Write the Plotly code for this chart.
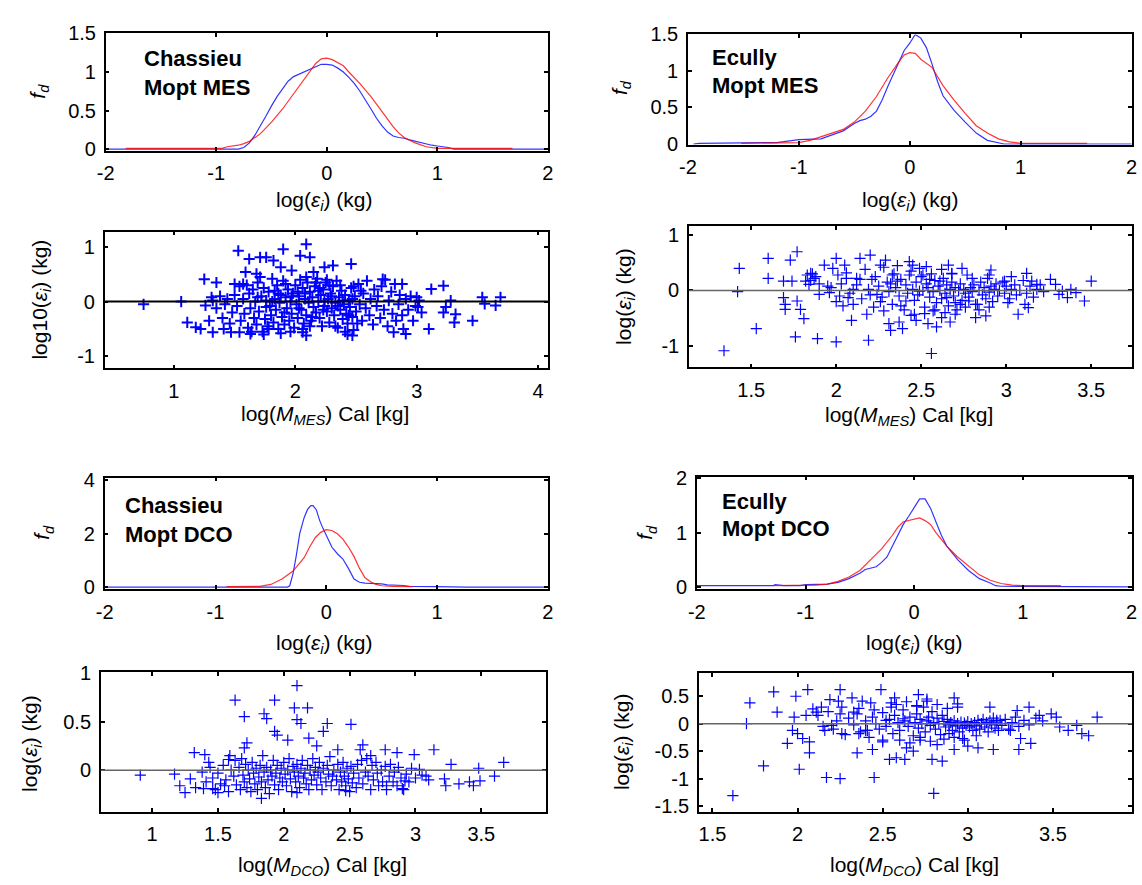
import plotly.graph_objects as go

W, H = 1142, 885
FONT = "Liberation Sans, Arial, Helvetica, sans-serif"

# ---------------- density curves (x = log(eps), y = f_d) ----------------
# Chassieu MES
ch_mes_blue_x = [-2.0, -0.8, -0.75, -0.7, -0.65, -0.6, -0.55, -0.5, -0.45, -0.4, -0.35, -0.3, -0.25, -0.2, -0.15, -0.1, -0.05, 0.0, 0.05, 0.1, 0.15, 0.2, 0.25, 0.3, 0.35, 0.4, 0.45, 0.5, 0.55, 0.6, 0.65, 0.7, 0.75, 0.8, 0.85, 0.9, 0.95, 1.0, 1.05, 1.1, 1.15, 2.0]
ch_mes_blue_y = [0.0, 0.0, 0.02, 0.08, 0.18, 0.3, 0.43, 0.56, 0.68, 0.78, 0.88, 0.94, 0.97, 1.0, 1.04, 1.07, 1.1, 1.1, 1.09, 1.05, 1.0, 0.93, 0.85, 0.75, 0.64, 0.52, 0.4, 0.3, 0.22, 0.17, 0.15, 0.14, 0.12, 0.1, 0.08, 0.07, 0.05, 0.04, 0.03, 0.02, 0.0, 0.0]
ch_mes_red_x = [-1.82, -0.95, -0.9, -0.8, -0.75, -0.7, -0.6, -0.5, -0.4, -0.3, -0.2, -0.15, -0.1, -0.05, 0.0, 0.05, 0.1, 0.15, 0.2, 0.3, 0.4, 0.5, 0.6, 0.65, 0.7, 0.8, 0.9, 1.0, 1.68]
ch_mes_red_y = [0.01, 0.01, 0.03, 0.05, 0.07, 0.1, 0.2, 0.35, 0.52, 0.72, 0.92, 1.02, 1.11, 1.17, 1.18, 1.16, 1.12, 1.08, 1.0, 0.85, 0.68, 0.48, 0.29, 0.21, 0.15, 0.08, 0.03, 0.01, 0.01]

# Ecully MES
ec_mes_blue_x = [-1.95, -1.9, -1.2, -1.1, -1.0, -0.8, -0.7, -0.6, -0.5, -0.45, -0.4, -0.35, -0.3, -0.25, -0.2, -0.15, -0.1, -0.05, 0.0, 0.05, 0.1, 0.15, 0.2, 0.25, 0.3, 0.4, 0.5, 0.6, 0.7, 0.8, 0.85, 2.0]
ec_mes_blue_y = [0.0, 0.01, 0.02, 0.04, 0.06, 0.07, 0.12, 0.18, 0.28, 0.32, 0.34, 0.38, 0.45, 0.6, 0.78, 0.95, 1.12, 1.28, 1.38, 1.5, 1.45, 1.32, 1.1, 0.86, 0.66, 0.46, 0.3, 0.15, 0.05, 0.01, 0.0, 0.0]
ec_mes_red_x = [-1.52, -1.0, -0.9, -0.8, -0.7, -0.6, -0.5, -0.4, -0.3, -0.2, -0.1, -0.05, 0.0, 0.05, 0.1, 0.2, 0.3, 0.4, 0.5, 0.6, 0.7, 0.8, 0.9, 1.0, 1.6]
ec_mes_red_y = [0.01, 0.02, 0.05, 0.1, 0.15, 0.2, 0.3, 0.45, 0.65, 0.9, 1.12, 1.22, 1.25, 1.24, 1.16, 1.05, 0.8, 0.6, 0.42, 0.25, 0.15, 0.07, 0.03, 0.01, 0.01]

# Chassieu DCO
ch_dco_blue_x = [-2.0, -0.35, -0.33, -0.3, -0.27, -0.24, -0.2, -0.17, -0.14, -0.12, -0.09, -0.06, -0.03, 0.0, 0.05, 0.1, 0.15, 0.2, 0.25, 0.3, 0.35, 0.5, 0.55, 0.7, 0.75, 1.0, 1.25, 1.27, 2.0]
ch_dco_blue_y = [0.0, 0.0, 0.05, 0.5, 1.2, 2.0, 2.6, 2.9, 3.05, 3.05, 2.9, 2.5, 2.2, 1.95, 1.5, 1.25, 1.05, 0.7, 0.3, 0.18, 0.15, 0.12, 0.08, 0.06, 0.03, 0.02, 0.01, 0.0, 0.0]
ch_dco_red_x = [-0.9, -0.6, -0.5, -0.4, -0.3, -0.2, -0.15, -0.1, -0.05, 0.0, 0.05, 0.1, 0.15, 0.2, 0.25, 0.3, 0.35, 0.4, 0.45, 0.5, 0.6, 0.78]
ch_dco_red_y = [0.02, 0.03, 0.1, 0.3, 0.6, 1.1, 1.5, 1.85, 2.05, 2.15, 2.12, 2.0, 1.8, 1.5, 1.15, 0.7, 0.35, 0.2, 0.1, 0.05, 0.03, 0.02]

# Ecully DCO
ec_dco_blue_x = [-2.0, -1.3, -1.28, -1.2, -1.05, -1.0, -0.8, -0.7, -0.6, -0.5, -0.45, -0.4, -0.35, -0.3, -0.25, -0.2, -0.15, -0.1, -0.05, 0.0, 0.05, 0.1, 0.15, 0.2, 0.25, 0.3, 0.4, 0.5, 0.6, 0.7, 0.75, 0.8, 2.0]
ec_dco_blue_y = [0.02, 0.02, 0.04, 0.02, 0.02, 0.04, 0.05, 0.08, 0.15, 0.25, 0.32, 0.35, 0.37, 0.45, 0.55, 0.75, 0.95, 1.15, 1.3, 1.45, 1.62, 1.62, 1.45, 1.2, 0.95, 0.75, 0.5, 0.3, 0.15, 0.07, 0.02, 0.01, 0.0]
ec_dco_red_x = [-1.3, -0.9, -0.8, -0.7, -0.6, -0.5, -0.4, -0.3, -0.2, -0.15, -0.1, 0.0, 0.05, 0.1, 0.15, 0.2, 0.3, 0.4, 0.5, 0.6, 0.7, 0.8, 0.9, 1.0, 1.35]
ec_dco_red_y = [0.02, 0.03, 0.05, 0.1, 0.18, 0.3, 0.5, 0.7, 0.95, 1.1, 1.2, 1.25, 1.27, 1.22, 1.15, 1.0, 0.75, 0.55, 0.38, 0.22, 0.12, 0.06, 0.03, 0.02, 0.02]

# ---------------- residual scatter (x = log(M) Cal, y = log(eps)) ----------------
ch_mes_pts = [
    (0.75, -0.05), (1.06, 0.0), (1.11, -0.38), (1.25, 0.41), (1.18, -0.47), (1.22, -0.5), (1.26, -0.07),
    (1.31, 0.08), (1.35, 0.35), (1.29, -0.35), (1.32, -0.56), (1.41, -0.5), (1.47, -0.56), (1.53, 0.93),
    (1.5, 0.32), (1.57, 0.32), (1.54, -0.56), (1.62, 0.78), (1.59, 0.54), (1.68, 0.51), (1.71, 0.81),
    (1.76, 0.81), (1.82, 0.75), (1.88, 0.63), (1.9, 0.96), (2.09, 1.05), (2.04, 0.84), (2.12, 0.81),
    (2.15, 0.54), (2.24, 0.63), (2.31, 0.66), (2.46, 0.69), (2.47, -0.62), (1.97, 0.57), (2.06, -0.56),
    (2.09, -0.62), (1.63, -0.59), (2.88, 0.32), (2.72, 0.41), (2.91, -0.59), (2.81, -0.56), (3.1, -0.5),
    (3.12, 0.23), (3.22, 0.29), (3.22, -0.2), (3.24, -0.1), (3.28, 0.02), (3.31, -0.38), (3.32, -0.23),
    (3.46, -0.35), (3.54, 0.08), (3.56, -0.04), (3.65, -0.07), (3.69, 0.08), (3.0, 0.08), (3.01, -0.1),
    (3.04, -0.2),
    (1.32, 0.02), (1.35, -0.12), (1.38, 0.10), (1.40, -0.30), (1.42, -0.05), (1.44, 0.05), (1.46, -0.40),
    (1.48, -0.20), (1.50, 0.12), (1.52, -0.08), (1.54, 0.28), (1.55, -0.35), (1.57, 0.05), (1.58, -0.22),
    (1.60, 0.30), (1.61, -0.48), (1.62, 0.15), (1.63, -0.12), (1.65, 0.22), (1.66, -0.30), (1.67, 0.00),
    (1.68, -0.42), (1.69, 0.35), (1.70, -0.18), (1.72, 0.10), (1.73, -0.55), (1.74, 0.25), (1.75, -0.32),
    (1.76, 0.02), (1.77, -0.45), (1.78, 0.18), (1.79, -0.08), (1.80, -0.25), (1.81, 0.42), (1.82, -0.38),
    (1.83, 0.05), (1.84, -0.15), (1.85, 0.30), (1.86, -0.50), (1.87, -0.02), (1.88, 0.12), (1.89, -0.28),
    (1.90, 0.38), (1.91, -0.42), (1.92, 0.08), (1.93, -0.12), (1.94, 0.22), (1.95, -0.35), (1.96, 0.00),
    (1.97, -0.22), (1.98, 0.15), (1.99, -0.48), (2.00, 0.30), (2.01, -0.05), (2.02, -0.30), (2.03, 0.10),
    (2.04, 0.40), (2.05, -0.15), (2.06, 0.25), (2.07, -0.40), (2.08, 0.05), (2.09, -0.25), (2.10, 0.35),
    (2.11, -0.02), (2.12, 0.18), (2.13, -0.35), (2.14, 0.08), (2.15, -0.10), (2.16, 0.28), (2.17, -0.20),
    (2.18, 0.42), (2.19, 0.00), (2.20, -0.30), (2.21, 0.12), (2.22, -0.45), (2.23, 0.22), (2.24, -0.08),
    (2.25, 0.35), (2.26, -0.18), (2.27, 0.05), (2.28, -0.38), (2.29, 0.15), (2.30, -0.12), (2.31, 0.28),
    (2.32, -0.25), (2.33, -0.02), (2.34, 0.38), (2.35, -0.48), (2.36, 0.08), (2.37, -0.15), (2.38, 0.20),
    (2.39, -0.32), (2.40, -0.05), (2.41, 0.12), (2.42, -0.22), (2.43, -0.40), (2.44, 0.02), (2.45, -0.10),
    (2.46, 0.25), (2.47, -0.28), (2.48, -0.52), (2.49, 0.10), (2.50, -0.18), (2.52, 0.32), (2.53, -0.05),
    (2.55, -0.35), (2.56, 0.15), (2.58, -0.12), (2.59, 0.38), (2.61, -0.25), (2.62, 0.05), (2.64, -0.42),
    (2.65, 0.22), (2.67, -0.08), (2.68, 0.10), (2.70, -0.30), (2.71, 0.28), (2.73, -0.15), (2.74, 0.40),
    (2.76, -0.45), (2.77, 0.02), (2.79, 0.18), (2.80, -0.22), (2.82, 0.32), (2.83, -0.35), (2.85, -0.05),
    (2.86, 0.12), (2.88, -0.25), (2.89, -0.50), (2.91, 0.05), (2.93, -0.15), (2.95, 0.10), (2.97, -0.35),
    (2.99, -0.08), (3.02, 0.02),
    (1.64, -0.55), (1.71, 0.45), (1.74, -0.60), (1.78, -0.50), (1.83, 0.20), (1.88, -0.58), (1.92, 0.32),
    (1.96, -0.55), (2.02, 0.18), (2.06, -0.50), (2.09, 0.45), (2.12, -0.45), (2.17, 0.35), (2.20, 0.25),
    (2.23, -0.15), (2.26, 0.40), (2.30, 0.10), (2.33, -0.45), (2.37, 0.30), (2.41, -0.55), (2.44, -0.25),
    (2.47, 0.05), (2.51, -0.40), (2.54, 0.20), (1.69, 0.08), (1.76, -0.10), (1.81, 0.00), (1.86, 0.15),
    (1.91, -0.20), (1.97, 0.10), (2.03, -0.12), (2.08, 0.15), (2.14, -0.28), (2.19, 0.20), (2.24, 0.00),
    (2.28, 0.30), (2.35, -0.08), (2.39, 0.02), (2.43, -0.60), (2.48, 0.28),
]

ec_mes_pts = [
    (1.34, -1.09), (1.43, 0.40), (1.42, -0.02), (1.53, -0.69), (1.6, 0.58), (1.6, 0.22), (1.69, 0.17),
    (1.69, -0.13), (1.7, -0.25), (1.7, -0.34), (1.73, 0.55), (1.77, 0.7), (1.74, 0.17), (1.77, -0.19),
    (1.76, -0.84), (1.79, -0.34), (1.81, -0.51), (1.82, 0.17), (1.83, 0.28), (1.85, 0.31), (1.87, 0.22),
    (1.84, 0.11), (1.89, -0.87), (1.9, -0.07), (1.93, 0.46), (1.95, 0.08), (1.96, -0.04), (2.0, 0.58),
    (2.0, -0.93), (1.98, 0.40), (2.01, 0.28), (2.02, -0.1), (2.05, 0.46), (2.07, -0.13), (2.09, -0.54),
    (2.12, 0.22), (2.14, 0.58), (2.18, -0.43), (2.19, -0.9), (2.2, 0.64), (2.21, 0.2), (2.24, -0.07),
    (2.26, 0.46), (2.28, -0.37), (2.29, 0.55), (2.31, -0.6), (2.32, -0.72), (2.33, 0.28), (2.36, 0.17),
    (2.37, -0.57), (2.39, -0.69), (2.41, -0.19), (2.43, 0.52), (2.45, 0.46), (2.46, -0.43), (2.47, -0.54),
    (2.49, -0.01), (2.51, 0.28), (2.53, 0.43), (2.54, -0.6), (2.56, -1.14), (2.57, -0.37), (2.59, -0.66),
    (2.61, 0.17), (2.62, -0.49), (2.65, -0.13), (2.66, 0.46), (2.67, -0.57), (2.68, 0.31), (2.7, -0.43),
    (2.73, -0.25), (2.78, -0.19), (2.82, -0.49), (2.83, -0.25), (2.88, -0.46), (2.9, 0.28), (2.91, 0.37),
    (2.99, 0.17), (3.01, -0.22), (3.03, 0.25), (3.07, -0.43), (3.11, -0.25), (3.13, -0.31), (3.12, 0.31),
    (3.15, 0.17), (3.18, 0.11), (3.26, 0.2), (3.29, 0.11), (3.31, -0.07), (3.33, -0.01), (3.36, -0.13),
    (3.38, 0.02), (3.41, -0.04), (3.46, -0.19), (3.5, 0.17),
    (1.97, 0.05), (2.00, -0.20), (2.03, 0.12), (2.06, 0.32), (2.08, -0.05), (2.10, -0.25), (2.12, 0.10),
    (2.15, -0.15), (2.17, 0.38), (2.19, 0.02), (2.22, -0.30), (2.23, 0.25), (2.25, 0.08), (2.27, -0.12),
    (2.28, 0.42), (2.30, 0.15), (2.31, -0.02), (2.33, -0.25), (2.34, 0.30), (2.35, 0.05), (2.37, -0.10),
    (2.38, 0.20), (2.40, -0.35), (2.41, 0.10), (2.42, -0.05), (2.44, 0.35), (2.45, 0.02), (2.46, -0.18),
    (2.47, 0.15), (2.48, -0.08), (2.50, 0.25), (2.51, 0.00), (2.52, -0.30), (2.53, 0.12), (2.54, 0.05),
    (2.55, -0.12), (2.56, 0.30), (2.57, -0.02), (2.58, 0.18), (2.59, -0.22), (2.60, 0.08), (2.61, 0.00),
    (2.62, -0.15), (2.63, 0.22), (2.64, -0.05), (2.65, 0.10), (2.66, -0.28), (2.67, 0.02), (2.68, 0.15),
    (2.69, -0.10), (2.70, 0.05), (2.71, -0.35), (2.72, 0.00), (2.73, 0.12), (2.74, -0.18), (2.75, 0.02),
    (2.76, -0.05), (2.77, 0.28), (2.78, -0.12), (2.79, 0.05), (2.80, -0.02), (2.81, 0.10), (2.82, -0.25),
    (2.84, 0.00), (2.85, 0.15), (2.86, -0.08), (2.87, 0.05), (2.88, -0.15), (2.89, 0.22), (2.90, -0.03),
    (2.91, 0.08), (2.92, -0.20), (2.93, 0.02), (2.94, 0.12), (2.95, -0.10), (2.96, 0.00), (2.98, 0.15),
    (2.99, -0.05), (3.00, 0.08), (3.02, -0.15), (3.03, 0.02), (3.05, 0.10), (3.06, -0.08), (3.08, 0.00),
    (3.10, 0.18), (3.12, -0.05), (3.14, 0.08), (3.16, -0.12), (3.18, 0.02), (3.20, 0.10), (3.22, -0.02),
    (2.36, 0.45), (2.43, 0.28), (2.49, 0.40), (2.55, 0.20), (2.62, 0.38), (2.68, 0.30), (2.74, 0.40),
    (2.80, 0.22), (2.44, -0.45), (2.52, -0.42), (2.58, -0.35), (2.64, -0.40), (2.70, -0.22), (2.76, -0.30),
    (2.84, -0.35), (2.90, -0.30), (2.14, 0.20), (2.20, -0.08), (2.26, -0.20), (2.32, 0.12), (2.38, -0.28),
    (1.86, 0.30), (1.88, 0.25), (1.85, 0.18), (1.90, 0.12), (2.04, -0.28), (2.06, 0.22), (2.10, 0.02),
]

ch_dco_pts = [
    (0.91, -0.05), (1.17, -0.04), (1.21, -0.16), (1.25, -0.23), (1.32, 0.18), (1.4, 0.16), (1.43, 0.08),
    (1.29, -0.09), (1.33, -0.18), (1.39, -0.19), (1.46, -0.19), (1.5, -0.23), (1.55, -0.16), (1.58, 0.11),
    (1.59, 0.15), (1.63, 0.72), (1.7, 0.55), (1.72, 0.28), (1.7, 0.23), (1.83, -0.29), (1.85, 0.58),
    (1.87, 0.53), (1.93, 0.72), (1.93, 0.4), (1.95, 0.36), (2.03, 0.31), (2.1, 0.87), (2.08, 0.64),
    (2.1, 0.52), (2.13, 0.48), (2.18, 0.64), (2.19, 0.33), (2.25, 0.25), (2.3, 0.4), (2.33, 0.48),
    (2.51, 0.47), (2.41, 0.21), (2.58, 0.21), (2.6, 0.26), (2.66, 0.15), (2.77, 0.21), (2.86, 0.18),
    (2.99, 0.16), (3.14, 0.21), (3.27, 0.06), (3.48, 0.02), (3.67, 0.08), (3.6, -0.06), (3.49, -0.11),
    (3.33, -0.14), (3.41, -0.12), (3.22, -0.09), (3.23, -0.16), (3.08, -0.06), (3.03, 0.01), (2.92, -0.11),
    (2.9, -0.19), (2.78, -0.16), (2.47, -0.21), (2.1, -0.23), (3.44, -0.16),
    (1.38, -0.02), (1.41, -0.12), (1.44, 0.03), (1.46, -0.08), (1.48, -0.20), (1.50, -0.03), (1.52, -0.14),
    (1.54, 0.05), (1.56, -0.10), (1.58, -0.22), (1.60, 0.00), (1.62, -0.06), (1.63, 0.10), (1.64, -0.15),
    (1.66, 0.03), (1.67, -0.20), (1.68, 0.12), (1.69, -0.05), (1.70, -0.12), (1.71, 0.06), (1.72, -0.18),
    (1.73, 0.00), (1.74, -0.09), (1.75, -0.22), (1.76, 0.08), (1.77, -0.03), (1.78, -0.14), (1.79, 0.02),
    (1.80, -0.20), (1.81, -0.07), (1.82, 0.05), (1.83, -0.12), (1.84, 0.15), (1.85, -0.02), (1.86, -0.18),
    (1.87, 0.03), (1.88, -0.10), (1.89, -0.24), (1.90, 0.00), (1.91, -0.06), (1.92, 0.10), (1.93, -0.15),
    (1.94, -0.03), (1.95, 0.05), (1.96, -0.20), (1.97, -0.08), (1.98, 0.02), (1.99, -0.12), (2.00, 0.08),
    (2.01, -0.04), (2.02, -0.16), (2.03, 0.00), (2.04, 0.12), (2.05, -0.09), (2.06, -0.22), (2.07, 0.04),
    (2.08, -0.02), (2.09, -0.12), (2.10, 0.06), (2.11, -0.06), (2.12, -0.18), (2.13, 0.02), (2.14, 0.10),
    (2.15, -0.08), (2.16, -0.03), (2.17, -0.14), (2.18, 0.05), (2.19, -0.20), (2.20, 0.00), (2.21, -0.10),
    (2.22, 0.12), (2.23, -0.05), (2.24, 0.03), (2.25, -0.15), (2.26, -0.02), (2.27, 0.08), (2.28, -0.08),
    (2.29, -0.20), (2.30, 0.02), (2.32, -0.12), (2.33, 0.05), (2.34, -0.04), (2.35, 0.14), (2.36, -0.16),
    (2.37, -0.06), (2.38, 0.00), (2.40, -0.10), (2.41, 0.06), (2.42, -0.20), (2.43, -0.02), (2.44, -0.12),
    (2.45, 0.08), (2.46, -0.06), (2.47, -0.16), (2.48, 0.02), (2.49, -0.09), (2.50, -0.22), (2.51, 0.04),
    (2.52, -0.13), (2.53, -0.03), (2.55, -0.18), (2.56, 0.06), (2.57, -0.08), (2.59, 0.10), (2.60, -0.14),
    (2.62, -0.02), (2.63, 0.12), (2.64, -0.06), (2.66, -0.20), (2.67, 0.05), (2.68, -0.10), (2.70, 0.08),
    (2.71, -0.03), (2.72, -0.16), (2.74, 0.00), (2.75, -0.12), (2.77, 0.04), (2.78, -0.20), (2.80, -0.06),
    (2.81, 0.06), (2.83, -0.12), (2.84, -0.02), (2.86, -0.16), (2.87, 0.03), (2.89, -0.08), (2.91, -0.20),
    (2.93, -0.04), (2.95, -0.12), (2.97, 0.02), (3.00, -0.08), (3.05, -0.05), (3.10, -0.10),
]

ec_dco_pts = [
    (1.62, -1.31), (1.7, 0.0), (1.72, 0.38), (1.8, -0.77), (1.86, 0.58), (1.88, 0.21), (1.94, -0.36),
    (1.97, -0.12), (1.99, 0.5), (1.98, 0.12), (2.0, -0.18), (2.01, -0.83), (2.03, -0.27), (2.05, 0.15),
    (2.06, 0.62), (2.07, -0.53), (2.07, -0.33), (2.09, 0.27), (2.11, 0.21), (2.14, 0.3), (2.16, -0.12),
    (2.17, -0.98), (2.19, 0.44), (2.2, -0.03), (2.25, 0.62), (2.25, -1.0), (2.24, 0.41), (2.25, 0.18),
    (2.26, -0.18), (2.32, 0.47), (2.33, 0.21), (2.35, -0.53), (2.36, -0.18), (2.38, 0.41), (2.41, -0.12),
    (2.43, 0.38), (2.44, -0.47), (2.45, -0.98), (2.49, 0.62), (2.5, -0.33), (2.52, 0.06), (2.54, -0.65),
    (2.55, 0.3), (2.57, 0.47), (2.58, -0.62), (2.62, 0.09), (2.63, -0.65), (2.64, -0.44), (2.68, -0.5),
    (2.7, 0.33), (2.71, 0.53), (2.72, -0.3), (2.76, 0.41), (2.8, -1.27), (2.79, -0.65), (2.82, -0.38),
    (2.85, -0.68), (2.89, -0.18), (2.92, -0.47), (2.92, 0.47), (2.94, 0.36), (2.97, -0.27), (3.0, -0.41),
    (3.06, -0.44), (3.13, 0.3), (3.15, -0.47), (3.17, 0.06), (3.25, -0.12), (3.29, 0.24), (3.3, -0.47),
    (3.31, -0.27), (3.36, 0.3), (3.37, -0.36), (3.42, 0.15), (3.49, 0.18), (3.52, 0.12), (3.54, -0.06),
    (3.59, -0.12), (3.64, -0.03), (3.67, -0.18), (3.76, 0.12), (3.71, -0.22),
    (2.12, 0.15), (2.15, -0.05), (2.18, 0.22), (2.21, -0.10), (2.23, 0.05), (2.26, 0.30), (2.28, -0.20),
    (2.30, 0.10), (2.33, -0.02), (2.35, 0.18), (2.37, -0.15), (2.40, 0.05), (2.42, -0.25), (2.44, 0.12),
    (2.46, 0.00), (2.48, -0.10), (2.50, 0.20), (2.52, -0.05), (2.54, 0.08), (2.56, -0.18), (2.57, 0.15),
    (2.59, 0.02), (2.60, -0.12), (2.62, 0.25), (2.63, 0.05), (2.65, -0.05), (2.66, 0.12), (2.68, -0.22),
    (2.69, 0.02), (2.70, 0.18), (2.71, -0.08), (2.72, 0.08), (2.73, 0.00), (2.74, 0.30), (2.75, -0.15),
    (2.76, 0.05), (2.77, 0.12), (2.78, -0.03), (2.79, 0.22), (2.80, 0.02), (2.81, -0.10), (2.82, 0.10),
    (2.83, 0.00), (2.84, -0.20), (2.85, 0.15), (2.86, 0.04), (2.87, -0.06), (2.88, 0.08), (2.89, -0.02),
    (2.90, 0.02), (2.91, -0.12), (2.92, 0.05), (2.93, -0.04), (2.94, 0.00), (2.95, -0.15), (2.96, 0.03),
    (2.97, -0.08), (2.98, 0.01), (2.99, -0.03), (3.00, 0.04), (3.01, -0.06), (3.02, 0.00), (3.03, -0.12),
    (3.04, 0.02), (3.05, -0.04), (3.06, 0.06), (3.07, -0.10), (3.08, 0.00), (3.09, 0.08), (3.10, -0.06),
    (3.11, 0.02), (3.12, -0.15), (3.13, 0.05), (3.14, -0.02), (3.15, 0.10), (3.16, -0.08), (3.17, 0.03),
    (3.18, -0.12), (3.19, 0.06), (3.20, -0.03), (3.22, 0.08), (3.24, -0.10), (3.26, 0.02), (3.28, 0.12),
    (3.30, -0.05), (3.33, 0.06), (3.36, -0.02), (3.40, 0.10), (3.44, 0.05), (2.58, 0.35), (2.64, 0.40),
    (2.70, 0.32), (2.76, 0.45), (2.82, 0.35), (2.88, 0.28), (2.94, 0.30), (2.60, -0.30), (2.66, -0.35),
    (2.72, -0.25), (2.78, -0.32), (2.86, -0.28), (2.92, -0.25), (2.98, -0.30), (3.05, -0.22), (2.45, 0.25),
    (2.50, -0.30), (2.55, 0.38), (2.36, 0.28), (2.40, -0.12),
]

# ---------------- labels & ticks ----------------
site_labels = ["Chassieu", "Ecully", "Chassieu", "Ecully"]
param_labels = ["Mopt MES", "Mopt MES", "Mopt DCO", "Mopt DCO"]
density_xticks = [-2, -1, 0, 1, 2]
density_yticks = [[0, 0.5, 1, 1.5], [0, 0.5, 1, 1.5], [0, 2, 4], [0, 1, 2]]
scatter_xticks = [[1, 2, 3, 4], [1.5, 2, 2.5, 3, 3.5], [1, 1.5, 2, 2.5, 3, 3.5], [1.5, 2, 2.5, 3, 3.5]]
scatter_yticks = [[-1, 0, 1], [-1, 0, 1], [0, 0.5, 1], [-1.5, -1, -0.5, 0, 0.5]]

x_title_eps = "log(<i>ε</i><sub><i>i</i></sub>) (kg)"
x_title_mes = "log(<i>M</i><sub><i>MES</i></sub>) Cal [kg]"
x_title_dco = "log(<i>M</i><sub><i>DCO</i></sub>) Cal [kg]"
y_title_fd = "<i>f</i><sub><i>d</i></sub>"
y_title_log10 = "log10(<i>ε</i><sub><i>i</i></sub>) (kg)"
y_title_log = "log(<i>ε</i><sub><i>i</i></sub>) (kg)"

# ---------------- layout geometry (pixels: left, top, right, bottom) ----------------
boxes = {
    1: (98, 23, 546, 143),
    2: (688, 24, 1138, 137),
    3: (97, 226, 546, 366),
    4: (689, 220, 1138, 365),
    5: (97, 478, 546, 592),
    6: (697, 477, 1138, 592),
    7: (93, 677, 544, 820),
    8: (699, 678, 1138, 820),
}
xranges = {1: [-2, 2], 2: [-2, 2.005], 3: [0.43, 4.08], 4: [1.134, 3.74],
           5: [-2, 2], 6: [-2, 2.005], 7: [0.61, 3.99], 8: [1.42, 3.965]}
yranges = {1: [-0.02, 1.5], 2: [-0.01, 1.5], 3: [-1.22, 1.28], 4: [-1.39, 1.17],
           5: [-0.07, 4.1], 6: [-0.04, 2.03], 7: [-0.425, 1.01], 8: [-1.6, 0.925]}

TICK_SIZE = 20
TITLE_SIZE = 21
PANEL_SIZE = 22


def fmt(v):
    return "%g" % v


def ax_names(i):
    return ("x" if i == 1 else "x%d" % i), ("y" if i == 1 else "y%d" % i)


fig = go.Figure()

density_sets = [
    (1, ch_mes_blue_x, ch_mes_blue_y, ch_mes_red_x, ch_mes_red_y),
    (2, ec_mes_blue_x, ec_mes_blue_y, ec_mes_red_x, ec_mes_red_y),
    (5, ch_dco_blue_x, ch_dco_blue_y, ch_dco_red_x, ch_dco_red_y),
    (6, ec_dco_blue_x, ec_dco_blue_y, ec_dco_red_x, ec_dco_red_y),
]
for i, bx, by, rx, ry in density_sets:
    xa, ya = ax_names(i)
    fig.add_trace(go.Scatter(x=bx, y=by, mode="lines", xaxis=xa, yaxis=ya,
                             line=dict(color="rgba(0,0,255,0.8)", width=1.2), showlegend=False))
    fig.add_trace(go.Scatter(x=rx, y=ry, mode="lines", xaxis=xa, yaxis=ya,
                             line=dict(color="rgba(255,0,0,0.8)", width=1.2), showlegend=False))

scatter_sets = [(3, ch_mes_pts, 2.0), (4, ec_mes_pts, 1.2), (7, ch_dco_pts, 1.2), (8, ec_dco_pts, 1.2)]
for i, pts, lw in scatter_sets:
    xa, ya = ax_names(i)
    fig.add_trace(go.Scatter(x=[p[0] for p in pts], y=[p[1] for p in pts], mode="markers",
                             xaxis=xa, yaxis=ya, showlegend=False,
                             marker=dict(symbol="cross-thin", size=8,
                                         line=dict(color="rgb(0,0,255)", width=lw))))

layout = dict(width=W, height=H, margin=dict(l=0, r=0, t=0, b=0, pad=0), autosize=False,
              paper_bgcolor="white", plot_bgcolor="white", showlegend=False,
              font=dict(family=FONT, size=TICK_SIZE, color="black"))

TICKFONT = dict(family=FONT, size=TICK_SIZE, color="black")
for i in range(1, 9):
    l, t, r, b = boxes[i]
    xa, ya = ax_names(i)
    if i in (1, 2, 5, 6):
        xt = density_xticks
        yt = density_yticks[[1, 2, 5, 6].index(i)]
    else:
        k = [3, 4, 7, 8].index(i)
        xt = scatter_xticks[k]
        yt = scatter_yticks[k]
    common = dict(showgrid=False, zeroline=False, showline=True, linecolor="black", linewidth=1.5,
                  mirror="ticks", ticks="inside", ticklen=4, tickwidth=2, tickcolor="black",
                  tickfont=TICKFONT, fixedrange=True)
    layout["xaxis" if i == 1 else "xaxis%d" % i] = dict(
        common, domain=[l / W, r / W], range=xranges[i], anchor=ya,
        tickvals=xt, ticktext=[fmt(v) for v in xt], ticklabelstandoff=4)
    layout["yaxis" if i == 1 else "yaxis%d" % i] = dict(
        common, domain=[1 - b / H, 1 - t / H], range=yranges[i], anchor=xa,
        tickvals=yt, ticktext=[fmt(v) for v in yt], ticklabelstandoff=4)

fig.update_layout(**layout)

# zero reference lines in the residual plots
for i in (3, 4, 7, 8):
    xa, ya = ax_names(i)
    fig.add_shape(type="line", xref=xa + " domain", yref=ya, x0=0, x1=1, y0=0, y1=0,
                  line=dict(color="black" if i == 3 else "#666666", width=2 if i == 3 else 1.5))

annotations = []


def ann(text, px, py, size=TITLE_SIZE, angle=0, xanchor="center", bold=False):
    if bold:
        text = "<b>%s</b>" % text
    annotations.append(dict(text=text, x=px / W, y=1 - py / H, xref="paper", yref="paper",
                            showarrow=False, textangle=angle, xanchor=xanchor, yanchor="middle",
                            font=dict(family=FONT, size=size, color="black")))


# x titles
ann(x_title_eps, 320, 195)
ann(x_title_eps, 913, 195)
ann(x_title_mes, 320, 414)
ann(x_title_mes, 912, 415)
ann(x_title_eps, 320, 648)
ann(x_title_eps, 918, 648)
ann(x_title_dco, 318, 876)
ann(x_title_dco, 918, 876)
# y titles
ann(y_title_fd, 30, 82, angle=-90)
ann(y_title_fd, 620, 78, angle=-90)
ann(y_title_log10, 32, 296, angle=-90)
ann(y_title_log, 624, 292, angle=-90)
ann(y_title_fd, 35, 534, angle=-90)
ann(y_title_fd, 646, 534, angle=-90)
ann(y_title_log, 23, 750, angle=-90)
ann(y_title_log, 622, 748, angle=-90)
# panel texts
text_pos = [(135, 49, 78), (710, 48, 76), (116, 507, 536), (720, 502, 530)]
for (px, y1, y2), s, p in zip(text_pos, site_labels, param_labels):
    ann(s, px, y1, size=PANEL_SIZE, xanchor="left", bold=True)
    ann(p, px, y2, size=PANEL_SIZE, xanchor="left", bold=True)

fig.update_layout(annotations=annotations)
fig.write_html("out.html", config={"displayModeBar": False},
               post_script="document.body.style.margin='0px';document.body.style.overflow='hidden';")
